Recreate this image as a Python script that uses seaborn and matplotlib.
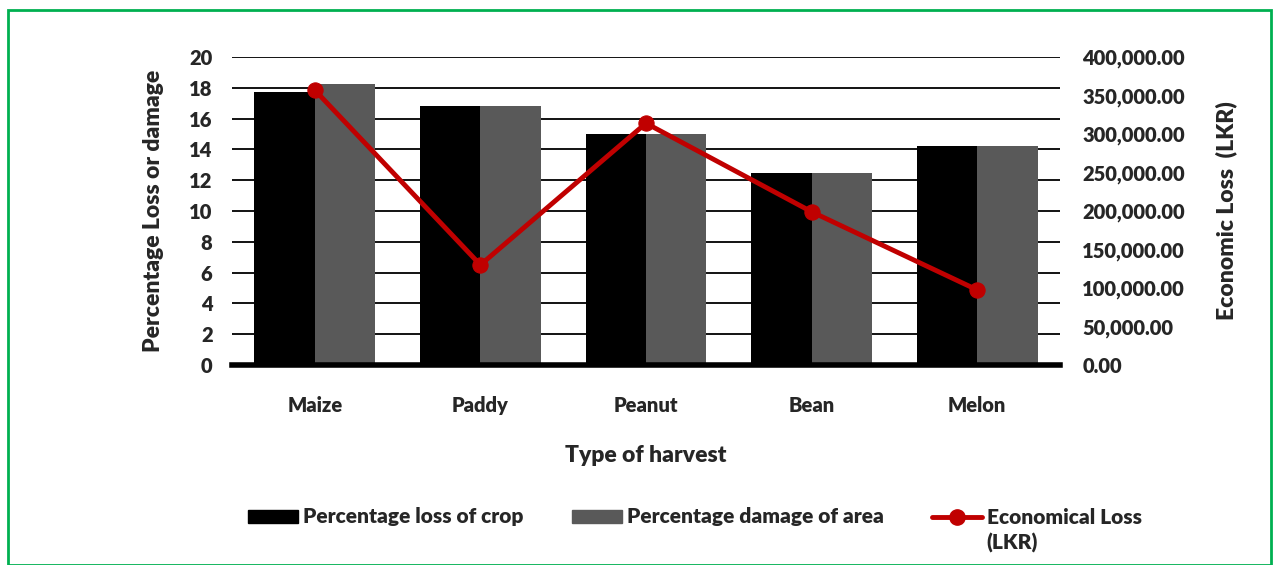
import pandas as pd
import seaborn as sns
import matplotlib.pyplot as plt
from matplotlib.patches import Rectangle
from matplotlib.lines import Line2D
from matplotlib.ticker import FuncFormatter

# Data
harvest = ["Maize", "Paddy", "Peanut", "Bean", "Melon"]
loss_of_crop = [17.7, 16.8, 15.0, 12.5, 14.2]
damage_of_area = [18.25, 16.8, 15.0, 12.5, 14.2]
economic_loss = [357000, 130000, 314000, 199000, 97500]

crop_label = "Percentage loss of crop"
area_label = "Percentage damage of area"

bars = pd.DataFrame({
    "harvest": harvest * 2,
    "value": loss_of_crop + damage_of_area,
    "series": [crop_label] * 5 + [area_label] * 5,
})
line = pd.DataFrame({"harvest": harvest, "loss": economic_loss})

sns.set_style("white")
plt.rcParams["font.family"] = ["Lato", "DejaVu Sans"]
W = "heavy"

fig = plt.figure(figsize=(12.79, 5.65), dpi=100)
ax = fig.add_axes([232 / 1279, 1 - 365 / 565, 828 / 1279, 308 / 565])

sns.barplot(data=bars, x="harvest", y="value", hue="series",
            palette=["#000000", "#595959"], width=0.73, saturation=1,
            edgecolor="none", ax=ax, legend=False)
ax.set_ylim(0, 20)
ax.set_yticks(range(0, 21, 2))
ax.set_xlim(-0.5, 4.5)
ax.yaxis.grid(True, color="black", lw=1.3)
ax.set_axisbelow(True)
for s in ["top", "right", "left"]:
    ax.spines[s].set_visible(False)
ax.spines["bottom"].set_linewidth(4)
ax.spines["bottom"].set_color("black")
ax.tick_params(axis="both", length=0, labelsize=14.5)
ax.tick_params(axis="x", pad=22)
ax.tick_params(axis="y", pad=14)
for lbl in ax.get_xticklabels() + ax.get_yticklabels():
    lbl.set_fontweight(W)
ax.set_xlabel("Type of harvest", fontsize=16.5, fontweight=W, labelpad=22)
ax.set_ylabel("Percentage Loss or damage", fontsize=16.5, fontweight=W, labelpad=18)

ax2 = ax.twinx()
sns.lineplot(data=line, x="harvest", y="loss", color="#C00000", lw=3.5,
             marker="o", markersize=11, markeredgecolor="#C00000", ax=ax2)
ax2.set_ylim(0, 400000)
ax2.set_yticks(range(0, 400001, 50000))
ax2.yaxis.set_major_formatter(FuncFormatter(lambda v, p: f"{v:,.2f}"))
for s in ["top", "right", "left", "bottom"]:
    ax2.spines[s].set_visible(False)
ax2.tick_params(axis="y", length=0, labelsize=14.5, pad=16)
for lbl in ax2.get_yticklabels():
    lbl.set_fontweight(W)
ax2.set_ylabel("Economic Loss  (LKR)", fontsize=16.5, fontweight=W, labelpad=22)

handles = [
    Rectangle((0, 0), 1, 1, color="#000000"),
    Rectangle((0, 0), 1, 1, color="#595959"),
    Line2D([0], [0], color="#C00000", lw=3.5, marker="o", markersize=11),
]
leg = fig.legend(handles, [crop_label, area_label, "Economical Loss"],
                 loc="center left", bbox_to_anchor=(248 / 1279, 1 - 517 / 565),
                 ncol=3, frameon=False, handlelength=2.4, borderpad=0,
                 borderaxespad=0, handleheight=0.6, columnspacing=2.3,
                 handletextpad=0.25, prop={"weight": W, "size": 15})

# second line of the last legend entry sits under its first line
fig.canvas.draw()
bb = leg.get_texts()[2].get_window_extent().transformed(fig.transFigure.inverted())
fig.text(bb.x0, bb.y0 - 6 / 565, "(LKR)", ha="left", va="top",
         fontsize=15, fontweight=W)

fig.patches.append(Rectangle((8 / 1279, 0), 1263 / 1279, 1 - 10 / 565,
                             transform=fig.transFigure, fill=False,
                             edgecolor="#00B050", lw=2))

fig.savefig("out.png", dpi=100)
